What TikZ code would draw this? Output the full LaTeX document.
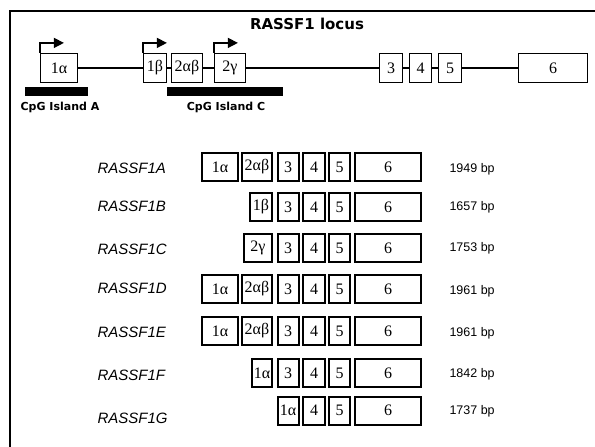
\documentclass[tikz,border=0pt]{standalone}
\usepackage{fontspec}
\setmainfont{Liberation Serif}
\setsansfont{Liberation Sans}
\newfontfamily\verafont{DejaVu Sans}
\usetikzlibrary{arrows.meta}

\begin{document}
\begin{tikzpicture}[x=1pt,y=-1pt,
    locusbox/.style={draw, line width=1.2pt, minimum height=29pt, inner sep=0pt, fill=white,
      font=\fontsize{16}{16}\selectfont},
    isobox/.style={locusbox, line width=2pt, minimum height=28pt},
    tss/.style={line width=1.3pt, -{Triangle[length=10pt,width=10pt]}},
    cpgbar/.style={fill=black, minimum height=9pt, inner sep=0pt},
    cpglabel/.style={font=\verafont\bfseries\fontsize{11}{11}\selectfont},
    isoname/.style={anchor=west, font=\sffamily\itshape\fontsize{15}{15}\selectfont},
    bplabel/.style={anchor=west, font=\sffamily\fontsize{12.5}{12.5}\selectfont}]
            \useasboundingbox (0,0) rectangle (595,447);
            \draw[line width=1.1pt] (10,460) -- (10,11) -- (610,11);

            \node[font=\verafont\bfseries\fontsize{15}{15}\selectfont] (title) at (307,24) {RASSF1 locus};

            % locus
            \node[locusbox, minimum width=37] (a1) at (59,68) {1α};
            \node[locusbox, minimum width=23] (b1) at (155,68) {1β};
            \node[locusbox, minimum width=31] (ab2) at (187,68) {2αβ};
            \node[locusbox, minimum width=31] (g2) at (230,68) {2γ};
            \node[locusbox, minimum width=23] (e3) at (391,68) {3};
            \node[locusbox, minimum width=22] (e4) at (420.5,68) {4};
            \node[locusbox, minimum width=23] (e5) at (450,68) {5};
            \node[locusbox, minimum width=69] (e6) at (553,68) {6};

            \draw[line width=2.4pt] (a1.east) -- (b1.west);
            \draw[line width=2.4pt] (b1.east) -- (ab2.west);
            \draw[line width=2.4pt] (ab2.east) -- (g2.west);
            \draw[line width=2.4pt] (g2.east) -- (e3.west);
            \draw[line width=2.4pt] (e3.east) -- (e4.west);
            \draw[line width=2.4pt] (e4.east) -- (e5.west);
            \draw[line width=2.4pt] (e5.east) -- (e6.west);

            \draw[tss] (a1.north west) |- ++(24,-10);
            \draw[tss] (b1.north west) |- ++(24,-10);
            \draw[tss] (g2.north west) |- ++(24,-10);

            \node[cpgbar, minimum width=63] (cpgA) at (56.5,91.5) {};
            \node[cpgbar, minimum width=116] (cpgC) at (225,91.5) {};
            \node[cpglabel] at (60,107) {CpG Island A};
            \node[cpglabel] at (226,107) {CpG Island C};

            % transcripts
            \node[isoname] (nA) at (94,168) {RASSF1A};
            \node[isoname] (nB) at (94,206) {RASSF1B};
            \node[isoname] (nC) at (94,249) {RASSF1C};
            \node[isoname] (nD) at (94,288) {RASSF1D};
            \node[isoname] (nE) at (94,332) {RASSF1E};
            \node[isoname] (nF) at (94,375) {RASSF1F};
            \node[isoname] (nG) at (94,418) {RASSF1G};

            \foreach \r/\y in {A/167,D/289,E/331} {
                \node[isobox, minimum width=36] (\r1a) at (220,\y) {1α};
                \node[isobox, minimum width=30] (\r2ab) at (257,\y) {2αβ};
            }
            \node[isobox, minimum width=22] (B1b) at (261,207) {1β};
            \node[isobox, minimum width=28] (C2g) at (258,248) {2γ};
            \node[isobox, minimum width=20] (F1a) at (262,373) {1α};
            \node[isobox, minimum width=21] (G1a) at (288,410.5) {1α};

            \foreach \r/\y in {A/167,B/207,C/248,D/289,E/331,F/373} {
                \node[isobox, minimum width=21] (\r3) at (288,\y) {3};
            }
            \foreach \r/\y in {A/167,B/207,C/248,D/289,E/331,F/373,G/410.5} {
                \node[isobox, minimum width=22] (\r4) at (314,\y) {4};
                \node[isobox, minimum width=21] (\r5) at (339.5,\y) {5};
                \node[isobox, minimum width=66] (\r6) at (388,\y) {6};
            }

            \node[bplabel] at (446,169) {1949 bp};
            \node[bplabel] at (446,207) {1657 bp};
            \node[bplabel] at (446,248) {1753 bp};
            \node[bplabel] at (446,291) {1961 bp};
            \node[bplabel] at (446,333) {1961 bp};
            \node[bplabel] at (446,374) {1842 bp};
            \node[bplabel] at (446,411) {1737 bp};
        \end{tikzpicture}
\end{document}
